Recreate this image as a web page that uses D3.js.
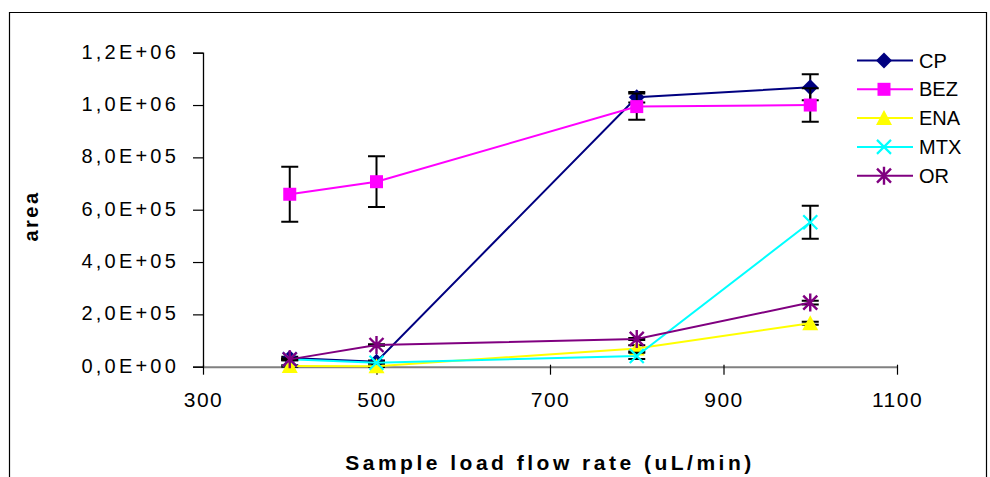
<!DOCTYPE html>
<html>
<head>
<meta charset="utf-8">
<script src="https://cdn.jsdelivr.net/npm/d3@7"></script>
<style>
  html, body { margin: 0; padding: 0; background: #fff; }
  svg { display: block; font-family: "Liberation Sans", Arial, sans-serif; }
</style>
</head>
<body>
<svg id="chart" width="990" height="477"></svg>
<script>
// ---- data ----
const flowRates = [400, 500, 800, 1000];
const seriesNames = ["CP", "BEZ", "ENA", "MTX", "OR"];
const seriesColors = ["#000080", "#FF00FF", "#FFFF00", "#00FFFF", "#800080"];
const seriesMarkers = ["diamond", "square", "triangle", "x", "star"];
const cpValues  = [33000, 19000, 1030000, 1068000];
const bezValues = [659000, 707000, 994000, 1000000];
const enaValues = [3000, 2000, 70000, 166000];
const mtxValues = [28000, 15000, 41000, 552000];
const orValues  = [28000, 83000, 106000, 245000];
const cpErrors  = [5000, 5000, 20000, 50000];
const bezErrors = [105000, 97000, 50000, 64000];
const enaErrors = [3000, 3000, 12000, 6000];
const mtxErrors = [3000, 3000, 12000, 63000];
const orErrors  = [3000, 3000, 4000, 7000];
const xTicks = [300, 500, 700, 900, 1100];
const yTicks = [0, 200000, 400000, 600000, 800000, 1000000, 1200000];
const yTickLabels = ["0,0E+00", "2,0E+05", "4,0E+05", "6,0E+05", "8,0E+05", "1,0E+06", "1,2E+06"];
const xTitle = "Sample load flow rate (uL/min)";
const yTitle = "area";

const seriesValues = [cpValues, bezValues, enaValues, mtxValues, orValues];
const seriesErrors = [cpErrors, bezErrors, enaErrors, mtxErrors, orErrors];

// ---- layout ----
const svg = d3.select("#chart");
const x = d3.scaleLinear().domain([300, 1100]).range([203, 897]);
const y = d3.scaleLinear().domain([0, 1200000]).range([366.7, 52.7]);

// outer frame (top, left, right)
svg.append("path")
  .attr("d", "M9.5,477 L9.5,12.5 L986.5,12.5 L986.5,477")
  .attr("fill", "none").attr("stroke", "#000").attr("stroke-width", 1.2);

// y axis
const yAxis = svg.append("g").attr("transform", "translate(203,0)")
  .call(d3.axisLeft(y).tickValues(yTicks).tickSize(10).tickPadding(14)
    .tickFormat((d, i) => yTickLabels[i]));
yAxis.select(".domain").attr("stroke", "#000").attr("stroke-width", 1.3);
yAxis.selectAll(".tick line").attr("stroke", "#000").attr("stroke-width", 1.2);
yAxis.selectAll(".tick text")
  .attr("font-size", 20).attr("fill", "#000")
  .attr("letter-spacing", 3.2).attr("dy", "0.28em")
  .attr("font-family", "'Liberation Sans', Arial, sans-serif");

// x axis
const xAxis = svg.append("g").attr("transform", "translate(0,366.7)")
  .call(d3.axisBottom(x).tickValues(xTicks).tickSize(8).tickSizeOuter(0).tickPadding(17)
    .tickFormat(d3.format("d")));
xAxis.select(".domain").attr("stroke", "#808080").attr("stroke-width", 2);
xAxis.selectAll(".tick line").attr("stroke", "#000").attr("stroke-width", 1.2).attr("y1", -2);
xAxis.selectAll(".tick text")
  .attr("font-size", 21).attr("fill", "#000")
  .attr("letter-spacing", 1.5)
  .attr("font-family", "'Liberation Sans', Arial, sans-serif");

// axis titles
svg.append("text").attr("x", 550).attr("y", 470)
  .attr("text-anchor", "middle").attr("font-size", 21).attr("font-weight", "bold")
  .attr("letter-spacing", 3.5).text(xTitle);
svg.append("text").attr("transform", "translate(38,216) rotate(-90)")
  .attr("text-anchor", "middle").attr("font-size", 20).attr("font-weight", "bold")
  .attr("letter-spacing", 2.5).text(yTitle);

// marker drawing
function drawMarker(g, type, color, cx, cy) {
  const m = g.append("g").attr("transform", `translate(${cx},${cy})`);
  if (type === "diamond") {
    m.append("path").attr("d", "M0,-8 L8,0 L0,8 L-8,0 Z").attr("fill", color);
  } else if (type === "square") {
    m.append("rect").attr("x", -6.5).attr("y", -6.5).attr("width", 13).attr("height", 13).attr("fill", color);
  } else if (type === "triangle") {
    m.append("path").attr("d", "M0,-8 L8,7 L-8,7 Z").attr("fill", color);
  } else if (type === "x") {
    m.append("path").attr("d", "M-7,-7 L7,7 M-7,7 L7,-7").attr("stroke", color).attr("stroke-width", 2.2);
  } else if (type === "star") {
    m.append("path").attr("d", "M-7,-7 L7,7 M-7,7 L7,-7 M0,-9 L0,9").attr("stroke", color).attr("stroke-width", 2.4);
  }
}

const line = d3.line().x(d => x(d[0])).y(d => y(d[1]));
const capW = 8.5;

seriesNames.forEach((name, si) => {
  const g = svg.append("g");
  const vals = seriesValues[si], errs = seriesErrors[si];
  const pts = flowRates.map((fr, i) => [fr, vals[i]]);
  // error bars
  pts.forEach((p, i) => {
    const cx = x(p[0]);
    const top = y(p[1] + errs[i]), bot = y(p[1] - errs[i]);
    g.append("path")
      .attr("d", `M${cx},${top} L${cx},${bot} M${cx - capW},${top} L${cx + capW},${top} M${cx - capW},${bot} L${cx + capW},${bot}`)
      .attr("stroke", "#000").attr("stroke-width", 2).attr("fill", "none");
  });
  g.append("path").datum(pts).attr("d", line)
    .attr("fill", "none").attr("stroke", seriesColors[si]).attr("stroke-width", 2);
  pts.forEach(p => drawMarker(g, seriesMarkers[si], seriesColors[si], x(p[0]), y(p[1])));
});

// legend
const legend = svg.append("g");
seriesNames.forEach((name, si) => {
  const ly = 60.5 + si * 28.8;
  legend.append("line").attr("x1", 857).attr("x2", 913).attr("y1", ly).attr("y2", ly)
    .attr("stroke", seriesColors[si]).attr("stroke-width", 2);
  drawMarker(legend, seriesMarkers[si], seriesColors[si], 884, ly);
  legend.append("text").attr("x", 919).attr("y", ly + 7)
    .attr("font-size", 20).attr("fill", "#000").text(name);
});
</script>
</body>
</html>
